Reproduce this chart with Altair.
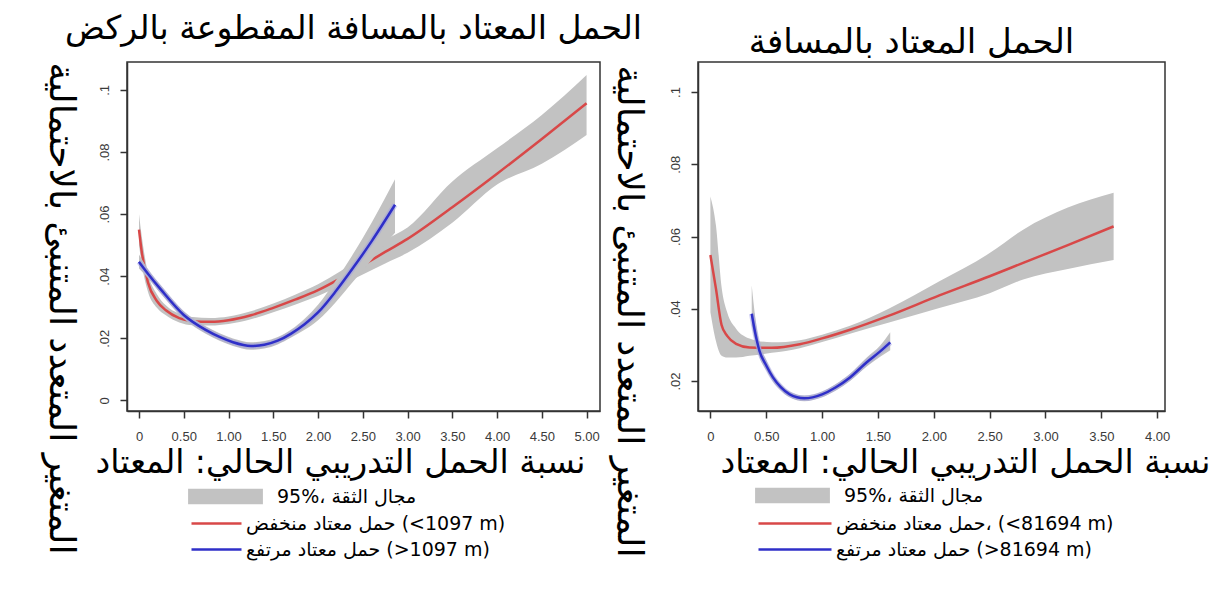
import altair as alt
import pandas as pd

AR = "DejaVu Sans"
NUM = "Liberation Sans"
RED = "#d84848"
BLUE = "#2f2fc8"
HALO = "#9a9ae8"
GRAY = "#c2c2c2"

# ---------------- data ----------------
# Left panel: running distance habitual load
LL_x = [0, 0.03, 0.1, 0.2, 0.3, 0.45, 0.6, 0.8, 1.0, 1.25, 1.5, 1.75, 2.0, 2.25, 2.5, 2.75, 3.0, 3.5, 4.0, 4.5, 5.0]
LL_y = [0.055, 0.048, 0.038, 0.032, 0.029, 0.0265, 0.0255, 0.0253, 0.0258, 0.0274, 0.0298, 0.0325, 0.0355, 0.0393, 0.0435, 0.0478, 0.052, 0.0622, 0.073, 0.0842, 0.0957]
LL_lo = [0.050, 0.044, 0.035, 0.0298, 0.0274, 0.0251, 0.0242, 0.0241, 0.0246, 0.0261, 0.0284, 0.0309, 0.0336, 0.0370, 0.0405, 0.0441, 0.0475, 0.0572, 0.0695, 0.0762, 0.0855]
LL_hi = [0.060, 0.053, 0.041, 0.0342, 0.0306, 0.0279, 0.0268, 0.0265, 0.0270, 0.0287, 0.0312, 0.0341, 0.0374, 0.0416, 0.0465, 0.0516, 0.0557, 0.0705, 0.0812, 0.0919, 0.1048]

LH_x = [0, 0.1, 0.25, 0.5, 0.75, 0.9, 1.05, 1.25, 1.4, 1.55, 1.7, 1.85, 2.0, 2.2, 2.4, 2.6, 2.86]
LH_y = [0.0446, 0.0408, 0.0355, 0.0275, 0.0226, 0.0204, 0.0187, 0.0175, 0.0179, 0.0192, 0.0215, 0.0245, 0.0283, 0.0352, 0.0430, 0.0513, 0.0630]
LH_lo = [0.0425, 0.0394, 0.0342, 0.0263, 0.0214, 0.0192, 0.0175, 0.0163, 0.0167, 0.0180, 0.0202, 0.0227, 0.0258, 0.0317, 0.0385, 0.0453, 0.0540]
LH_hi = [0.0470, 0.0423, 0.0368, 0.0287, 0.0238, 0.0216, 0.0199, 0.0187, 0.0191, 0.0204, 0.0228, 0.0263, 0.0308, 0.0387, 0.0475, 0.0573, 0.0712]

# Right panel: distance habitual load
RL_x = [0, 0.05, 0.1, 0.15, 0.23, 0.35, 0.55, 0.8, 1.0, 1.25, 1.6, 2.05, 2.5, 2.8, 3.2, 3.61]
RL_y = [0.0549, 0.0455, 0.0355, 0.0325, 0.0303, 0.0293, 0.0292, 0.0302, 0.0318, 0.0342, 0.0381, 0.0437, 0.049, 0.0527, 0.0576, 0.0628]
RL_lo = [0.039, 0.031, 0.027, 0.0265, 0.0265, 0.027, 0.0278, 0.0291, 0.0308, 0.0331, 0.0362, 0.0402, 0.0443, 0.0481, 0.051, 0.0535]
RL_hi = [0.0711, 0.063, 0.046, 0.039, 0.0345, 0.0318, 0.0307, 0.0313, 0.0328, 0.0353, 0.0401, 0.0476, 0.0554, 0.0619, 0.068, 0.0721]

RH_x = [0.37, 0.4, 0.44, 0.5, 0.56, 0.63, 0.71, 0.84, 1.0, 1.12, 1.25, 1.4, 1.52, 1.61]
RH_y = [0.0386, 0.0335, 0.0283, 0.0243, 0.021, 0.0183, 0.0163, 0.0152, 0.0163, 0.0182, 0.021, 0.0252, 0.0282, 0.0307]
RH_lo = [0.0355, 0.031, 0.0265, 0.023, 0.0199, 0.0174, 0.0155, 0.0144, 0.0155, 0.0173, 0.02, 0.024, 0.0267, 0.0285]
RH_hi = [0.0465, 0.038, 0.0305, 0.0258, 0.022, 0.0192, 0.0171, 0.016, 0.0171, 0.0191, 0.022, 0.0265, 0.0298, 0.0335]

# tick values
L_XTICKS = [0, 0.5, 1, 1.5, 2, 2.5, 3, 3.5, 4, 4.5, 5]
R_XTICKS = [0, 0.5, 1, 1.5, 2, 2.5, 3, 3.5, 4]
L_YTICKS = [0, 0.02, 0.04, 0.06, 0.08, 0.1]
R_YTICKS = [0.02, 0.04, 0.06, 0.08, 0.1]

# texts
TITLE_L = "الحمل المعتاد بالمسافة المقطوعة بالركض"
TITLE_R = "الحمل المعتاد بالمسافة"
X_TITLE = "نسبة الحمل التدريبي الحالي: المعتاد"
Y_TITLE = "المتغير المتعدد المتنبئ بالاحتمالية"
CI_LABEL = "\u200e95%، مجال الثقة"
LOW_L = "حمل معتاد منخفض \u2066(<1097 m)\u2069"
HIGH_L = "حمل معتاد مرتفع \u2066(>1097 m)\u2069"
LOW_R = "حمل معتاد منخفض، \u2066(<81694 m)\u2069"
HIGH_R = "حمل معتاد مرتفع \u2066(>81694 m)\u2069"

RECT_PATH = "M-1,-0.21H1V0.21H-1Z"


def frame(xs, ys, los, his, series):
    return pd.DataFrame({"x": xs, "y": ys, "lo": los, "hi": his,
                         "series": series, "ci": CI_LABEL})


def panel(low, high, low_lab, high_lab, xdom, ydom, xticks, yticks, w, h,
          title, title_size, title_dx, title_off, ytx, yty, xtx, xty,
          fill_leg, stroke_leg, stroke_path, stroke_lab_off):
    xaxis = alt.Axis(values=xticks, title=X_TITLE, grid=False,
                     labelExpr="datum.value == 0 ? '0' : format(datum.value, '.2f')",
                     labelFont=NUM, labelFontSize=13, labelColor="#3a3a3a", labelPadding=12,
                     labelFlush=False, labelOverlap=False,
                     titleFont=AR, titleFontSize=33, titleFontWeight="normal", titleColor="black",
                     titleX=xtx, titleY=xty, titleAlign="center", titleBaseline="middle",
                     titleLimit=1000)
    yaxis = alt.Axis(values=yticks, title=Y_TITLE, grid=False,
                     labelExpr="datum.value == 0 ? '0' : slice(format(datum.value, '.2~f'), 1)",
                     labelFont=NUM, labelFontSize=13, labelColor="#3a3a3a", labelPadding=9,
                     labelAngle=270, labelAlign="center", labelBaseline="bottom",
                     labelFlush=False, labelOverlap=False,
                     titleFont=AR, titleFontSize=36, titleFontWeight="normal", titleColor="black",
                     titleAngle=90, titleX=ytx, titleY=yty, titleAlign="center", titleBaseline="middle",
                     titleLimit=1000)
    X = alt.X("x:Q", scale=alt.Scale(domain=xdom, nice=False, zero=False), axis=xaxis)
    Y = alt.Y("y:Q", scale=alt.Scale(domain=ydom, nice=False, zero=False), axis=yaxis)
    Ylo = alt.Y("lo:Q", scale=alt.Scale(domain=ydom, nice=False, zero=False), axis=yaxis)

    fill = alt.Fill("ci:N", scale=alt.Scale(domain=[CI_LABEL], range=[GRAY]),
                    legend=alt.Legend(orient="none", legendX=fill_leg[0], legendY=fill_leg[1],
                                      title=None, symbolType=RECT_PATH, symbolSize=5600,
                                      symbolStrokeWidth=0, symbolOpacity=1, padding=0,
                                      labelFont=AR, labelFontSize=19, labelColor="black",
                                      labelOffset=14, labelLimit=500))
    stroke = alt.Stroke("series:N", scale=alt.Scale(domain=[low_lab, high_lab], range=[RED, BLUE]),
                        legend=alt.Legend(orient="none", legendX=stroke_leg[0], legendY=stroke_leg[1],
                                          title=None, symbolType=stroke_path, symbolSize=400,
                                          symbolStrokeWidth=2.5, padding=0, rowPadding=4,
                                          labelFont=AR, labelFontSize=19, labelColor="black",
                                          labelOffset=stroke_lab_off, labelLimit=500))

    def band(df):
        return alt.Chart(df).mark_area(interpolate="monotone", opacity=1).encode(
            x=X, y=Ylo, y2="hi:Q", fill=fill)

    def line(df):
        return alt.Chart(df).mark_line(interpolate="monotone", strokeWidth=2.5).encode(
            x=X, y=Y, stroke=stroke)

    def halo(df):
        return alt.Chart(df).mark_line(interpolate="monotone", strokeWidth=5.5, opacity=0.45).encode(
            x=X, y=Y, stroke=alt.value(HALO))

    return alt.layer(band(low), line(low), band(high), halo(high), line(high)).properties(
        width=w, height=h,
        title=alt.TitleParams(title, font=AR, fontSize=title_size, fontWeight="normal", color="black",
                              anchor="middle", dx=title_dx, offset=title_off),
    )


left = panel(frame(LL_x, LL_y, LL_lo, LL_hi, LOW_L), frame(LH_x, LH_y, LH_lo, LH_hi, HIGH_L),
             LOW_L, HIGH_L, [-0.134, 5.15], [-0.00345, 0.109], L_XTICKS, L_YTICKS, 473, 349,
             TITLE_L, 33, -10, 16, -67, 246, 213, 51,
             (61, 397), (78, 450), "M-2.5,0H2.5", 18)
right = panel(frame(RL_x, RL_y, RL_lo, RL_hi, LOW_R), frame(RH_x, RH_y, RH_lo, RH_hi, HIGH_R),
              LOW_R, HIGH_R, [-0.111, 4.07], [0.0117, 0.1083], R_XTICKS, R_YTICKS, 467, 349,
              TITLE_R, 34, -20, 2, -70, 249, 267, 51,
              (57, 396), (85.5, 450), "M-3.65,0H3.65", 29.5)

chart = alt.hconcat(left, right, spacing=98, bounds="flush").resolve_scale(
    x="independent", y="independent", fill="independent", stroke="independent"
).resolve_legend(fill="independent", stroke="independent").configure_view(
    stroke="#333", strokeWidth=1.5
).configure_axis(
    domainColor="#333", domainWidth=1.5, tickColor="#333", tickWidth=1.5, tickSize=7
).properties(
    padding={"left": 33, "top": 4, "right": 0, "bottom": 0},
    background="white",
)

chart.save("out.html", embed_options={"renderer": "svg", "actions": False})
